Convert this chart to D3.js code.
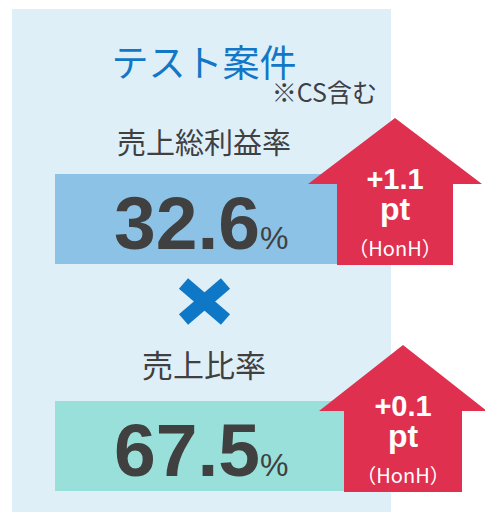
<!DOCTYPE html>
<html>
<head>
<meta charset="utf-8">
<script src="https://cdn.jsdelivr.net/npm/d3@7"></script>
<style>
  html, body { margin: 0; padding: 0; background: #ffffff; }
  svg { display: block; }
</style>
</head>
<body>
<script>
// ---- data ----
const title = "テスト案件";
const note = "※CS含む";
const categories = ["売上総利益率", "売上比率"];
const values = [32.6, 67.5];
const valueUnit = "%";
const deltas = ["+1.1", "+0.1"];
const deltaUnit = "pt";
const deltaBasis = "（HonH）";

// ---- layout / style ----
const W = 485, H = 512;
const C = {
  panel: "#dfeff8",
  title: "#1177c6",
  text: "#404040",
  bars: ["#8bc2e5", "#98e0d9"],
  arrow: "#e03050",
  cross: "#0f78c6"
};
const cjk = "'Noto Sans CJK JP', 'Noto Sans', sans-serif";
const latin = "'Liberation Sans', Arial, sans-serif";

const svg = d3.select("body").append("svg")
  .attr("width", W).attr("height", H);

// background panel
svg.append("rect").attr("x", 12).attr("y", 9).attr("width", 379).attr("height", H - 9)
  .attr("fill", C.panel);

// title & note
svg.append("text").attr("x", 204).attr("y", 61)
  .attr("text-anchor", "middle").attr("dominant-baseline", "central")
  .attr("font-family", cjk).attr("font-size", 37).attr("fill", C.title)
  .text(title);
svg.append("text").attr("x", 377).attr("y", 91)
  .attr("text-anchor", "end").attr("dominant-baseline", "central")
  .attr("font-family", cjk).attr("font-size", 25).attr("fill", C.text)
  .text(note);

// row scale
const y = d3.scaleBand().domain(categories).range([174, 628]).paddingInner(0);
const barH = 90;
const barX = d3.scaleLinear().domain([0, 1]).range([55, 340]);
const arrowCx = [395, 403];
const headHalf = [87, 84];
const bodyHalf = [58, 59];
const labelSize = [29, 31];
const labelDy = [-33, -38];

const rows = svg.selectAll("g.row").data(categories).join("g").attr("class", "row");

rows.each(function (cat, i) {
  const g = d3.select(this);
  const top = y(cat);
  // label
  g.append("text").attr("x", 204).attr("y", top + labelDy[i])
    .attr("text-anchor", "middle").attr("dominant-baseline", "central")
    .attr("font-family", cjk).attr("font-size", labelSize[i]).attr("fill", C.text)
    .text(cat);
  // bar
  g.append("rect").attr("x", barX(0)).attr("y", top)
    .attr("width", arrowCx[i] - barX(0)).attr("height", barH)
    .attr("fill", C.bars[i]);
  // value
  const t = g.append("text").attr("x", 114).attr("y", top + 75)
    .attr("fill", C.text).attr("font-family", latin);
  t.append("tspan").attr("font-size", 75).attr("font-weight", "bold")
    .text(d3.format(".1f")(values[i]));
  t.append("tspan").attr("font-size", 32).attr("dx", 0).text(valueUnit);
  // arrow
  const cx = arrowCx[i], aTop = top - 56, aBot = top + barH + 1, hb = aTop + 66;
  const p = d3.path();
  p.moveTo(cx, aTop);
  p.lineTo(cx + headHalf[i], hb);
  p.lineTo(cx + bodyHalf[i], hb);
  p.lineTo(cx + bodyHalf[i], aBot);
  p.lineTo(cx - bodyHalf[i], aBot);
  p.lineTo(cx - bodyHalf[i], hb);
  p.lineTo(cx - headHalf[i], hb);
  p.closePath();
  g.append("path").attr("d", p.toString()).attr("fill", C.arrow);
  g.append("text").attr("x", cx).attr("y", aTop + 71)
    .attr("text-anchor", "middle").attr("fill", "#fff")
    .attr("font-family", latin).attr("font-weight", "bold").attr("font-size", 29)
    .text(deltas[i]);
  g.append("text").attr("x", cx).attr("y", aTop + 102)
    .attr("text-anchor", "middle").attr("fill", "#fff")
    .attr("font-family", latin).attr("font-weight", "bold").attr("font-size", 32)
    .text(deltaUnit);
  g.append("text").attr("x", cx).attr("y", aTop + 138)
    .attr("text-anchor", "middle").attr("fill", "#fff")
    .attr("font-family", cjk).attr("font-size", 20)
    .text(deltaBasis);
});

// cross
const cross = svg.append("g").attr("transform", "translate(204.5,301.5)");
cross.append("line").attr("x1", -21).attr("y1", -18).attr("x2", 21).attr("y2", 18)
  .attr("stroke", C.cross).attr("stroke-width", 14);
cross.append("line").attr("x1", -21).attr("y1", 18).attr("x2", 21).attr("y2", -18)
  .attr("stroke", C.cross).attr("stroke-width", 14);
</script>
</body>
</html>
